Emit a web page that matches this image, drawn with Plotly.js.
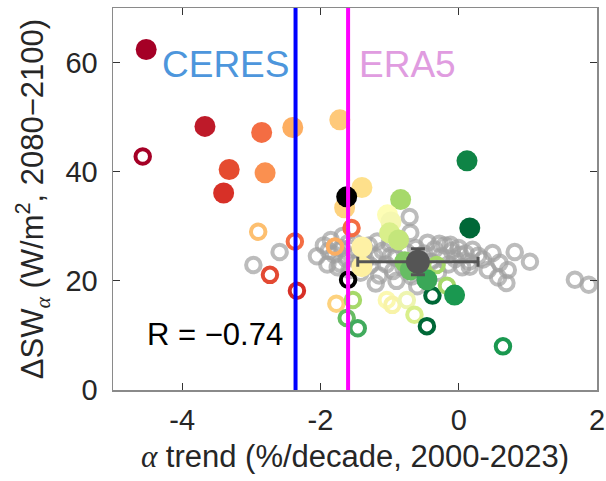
<!DOCTYPE html>
<html>
<head>
<meta charset="utf-8">
<script src="https://cdn.plot.ly/plotly-3.0.1.min.js"></script>
<style>html,body{margin:0;padding:0;background:#fff;}#chart{width:606px;height:481px;}</style>
</head>
<body>
<div id="chart"></div>
<script>
// Grey (other) models: open circles
const greyX = [-2.97,-2.59,-2.05,-1.95,-1.9,-1.85,-1.8,-1.75,-1.7,-1.68,-1.62,-1.58,-1.55,-1.5,-1.45,-1.42,-1.38,-1.3,-1.28,-1.22,-1.15,-1.1,-1.05,-1.0,-0.95,-0.9,-0.85,-0.8,-0.75,-0.7,-0.71,-0.68,-0.62,-0.55,-0.5,-0.45,-0.4,-0.35,-0.3,-0.25,-0.2,-0.15,-0.1,-0.05,0.0,0.05,0.1,0.15,0.2,0.16,0.35,0.49,0.81,1.03,0.59,0.71,0.57,0.69,1.68,1.88,-1.2,-0.6,-0.9,-1.88,-1.72,-1.35,-1.18,-0.98,-0.58,-0.28,0.02,0.28,0.42,-1.6,-0.12];
const greyY = [22.9,25.3,24.5,26.5,23.0,27.5,24.8,22.5,26.0,28.2,24.0,22.0,25.8,27.0,23.5,21.5,25.0,26.5,22.8,24.5,21.0,25.5,23.0,26.8,21.8,24.2,27.5,22.5,25.2,28.8,31.7,20.8,26.0,22.0,25.0,27.0,23.5,25.8,21.5,24.5,26.5,23.0,25.5,24.0,26.0,22.5,25.0,23.5,25.7,22.6,23.9,25.1,25.3,23.5,23.3,22.0,20.6,19.6,20.2,19.3,19.5,19.0,20.0,25.5,23.2,23.8,27.2,24.6,24.2,26.8,24.8,24.6,22.0,26.9,26.6];

// Coloured open circles
const openX = [-4.57,-2.37,-2.90,-2.73,-2.34,-1.79,-1.55,-1.60,-1.77,-1.53,-1.62,-1.46,-1.04,-0.96,-0.75,-0.64,-0.46,-0.38,-0.17,-0.32,0.64];
const openY = [42.8,27.2,29.0,21.1,18.2,26.3,29.7,20.2,15.8,16.5,13.2,11.3,16.5,15.6,16.5,13.8,11.7,17.3,19.1,22.9,8.0];
const openC = ['#a50026','#f46d43','#fdbf6f','#e34a33','#d73027','#fdae61','#f46d43','#000000','#fdd27e','#a6d96a','#66bd63','#41ab5d','#fbf8b0','#f8f3a8','#eef5b0','#d9ef8b','#006837','#006837','#a6d96a','#a6d96a','#1a9850'];

// Coloured filled circles
const fillX = [-4.52,-3.67,-2.85,-2.40,-1.72,-3.32,-2.80,-3.40,-1.40,-1.65,-0.84,-1.03,-0.98,-1.0,-0.87,-1.40,-1.40,-0.78,-0.70,-0.46,-0.06,0.16,0.12,-1.62];
const fillY = [62.4,48.3,47.2,48.1,49.5,40.4,39.8,36.1,37.1,33.4,34.9,32.1,30.8,28.8,27.5,26.2,22.6,23.5,22.0,20.2,17.4,29.7,42.0,35.4];
const fillC = ['#a50026','#be1a29','#f46d43','#fdae61','#fec97a','#e54c30','#fa9050','#d73027','#fee08b','#fdd27e','#a6d96a','#fdfdb5','#f5f7b0','#d9ef8b','#c4e67b','#fef1a5','#fef0a0','#86cb66','#66bd63','#3aa757','#1a9850','#006837','#0f8446','#000000'];

// Multi-model mean with spread
const meanX = [-0.59];
const meanY = [23.5];
const meanErrX = [0.87];
const meanErrY = [2.4];

// Observed trends
const ceresTrend = -2.36;
const era5Trend = -1.60;
const rText = 'R = \u22120.74';

const traces = [
  {x: greyX, y: greyY, type: 'scatter', mode: 'markers', showlegend: false,
   marker: {symbol: 'circle-open', size: 14.5, color: 'rgba(160,160,160,0.7)', line: {width: 4, color: 'rgba(160,160,160,0.7)'}}},
  {x: openX, y: openY, type: 'scatter', mode: 'markers', showlegend: false,
   marker: {symbol: 'circle-open', size: 14.5, color: openC, line: {width: 4, color: openC}}},
  {x: fillX, y: fillY, type: 'scatter', mode: 'markers', showlegend: false,
   marker: {symbol: 'circle', size: 21, color: fillC, line: {width: 0}}},
  {x: meanX, y: meanY, type: 'scatter', mode: 'markers', showlegend: false,
   marker: {symbol: 'circle', size: 24, color: '#555555'},
   error_x: {type: 'data', array: meanErrX, visible: true, color: '#555555', thickness: 3, width: 5},
   error_y: {type: 'data', array: meanErrY, visible: true, color: '#555555', thickness: 3, width: 7}}
];

const axisCommon = {
  showgrid: false, zeroline: false, showline: true, linecolor: '#8a8a8a', linewidth: 1.5,
  mirror: 'ticks', ticks: 'inside', ticklen: 7, tickwidth: 1.2, tickcolor: '#333333',
  tickfont: {family: 'Liberation Sans, Arial, sans-serif', size: 29, color: '#262626'}
};

const layout = {
  width: 606, height: 481,
  margin: {l: 113, r: 9, t: 8, b: 91},
  paper_bgcolor: '#ffffff', plot_bgcolor: '#ffffff',
  font: {family: 'Liberation Sans, Arial, sans-serif', color: '#262626'},
  xaxis: Object.assign({}, axisCommon, {
    range: [-5, 2], tickvals: [-4, -2, 0, 2], ticktext: ['-4', '-2', '0', '2'],
    ticklabelstandoff: 4,
    title: {text: '<span style="font-family:Liberation Serif, serif"><i>\u03b1</i></span> trend (%/decade, 2000-2023)', standoff: 10,
            font: {family: 'Liberation Sans, Arial, sans-serif', size: 31, color: '#262626'}}
  }),
  yaxis: Object.assign({}, axisCommon, {
    range: [0, 70], tickvals: [0, 20, 40, 60],
    ticklabelstandoff: 8,
    title: {text: '\u0394SW<sub><span style="font-family:Liberation Serif, serif"><i>\u03b1</i></span></sub> (W/m<sup>2</sup>, 2080\u22122100)', standoff: 12,
            font: {family: 'Liberation Sans, Arial, sans-serif', size: 31, color: '#262626'}}
  }),
  shapes: [
    {type: 'line', xref: 'x', yref: 'paper', x0: ceresTrend, x1: ceresTrend, y0: 0, y1: 1, line: {color: '#0000ff', width: 4}},
    {type: 'line', xref: 'x', yref: 'paper', x0: era5Trend, x1: era5Trend, y0: 0, y1: 1, line: {color: '#ff00ff', width: 4}}
  ],
  annotations: [
    {xref: 'x', yref: 'y', x: -3.37, y: 59.6, text: 'CERES', showarrow: false,
     font: {family: 'Liberation Sans, Arial, sans-serif', size: 37, color: '#4d96dc'}},
    {xref: 'x', yref: 'y', x: -0.74, y: 59.6, text: 'ERA5', showarrow: false,
     font: {family: 'Liberation Sans, Arial, sans-serif', size: 37, color: '#e09ce0'}},
    {xref: 'x', yref: 'y', x: -3.53, y: 10.1, text: rText, showarrow: false,
     font: {family: 'Liberation Sans, Arial, sans-serif', size: 31, color: '#000000'}}
  ]
};

Plotly.newPlot('chart', traces, layout, {staticPlot: true, displayModeBar: false});
</script>
</body>
</html>
